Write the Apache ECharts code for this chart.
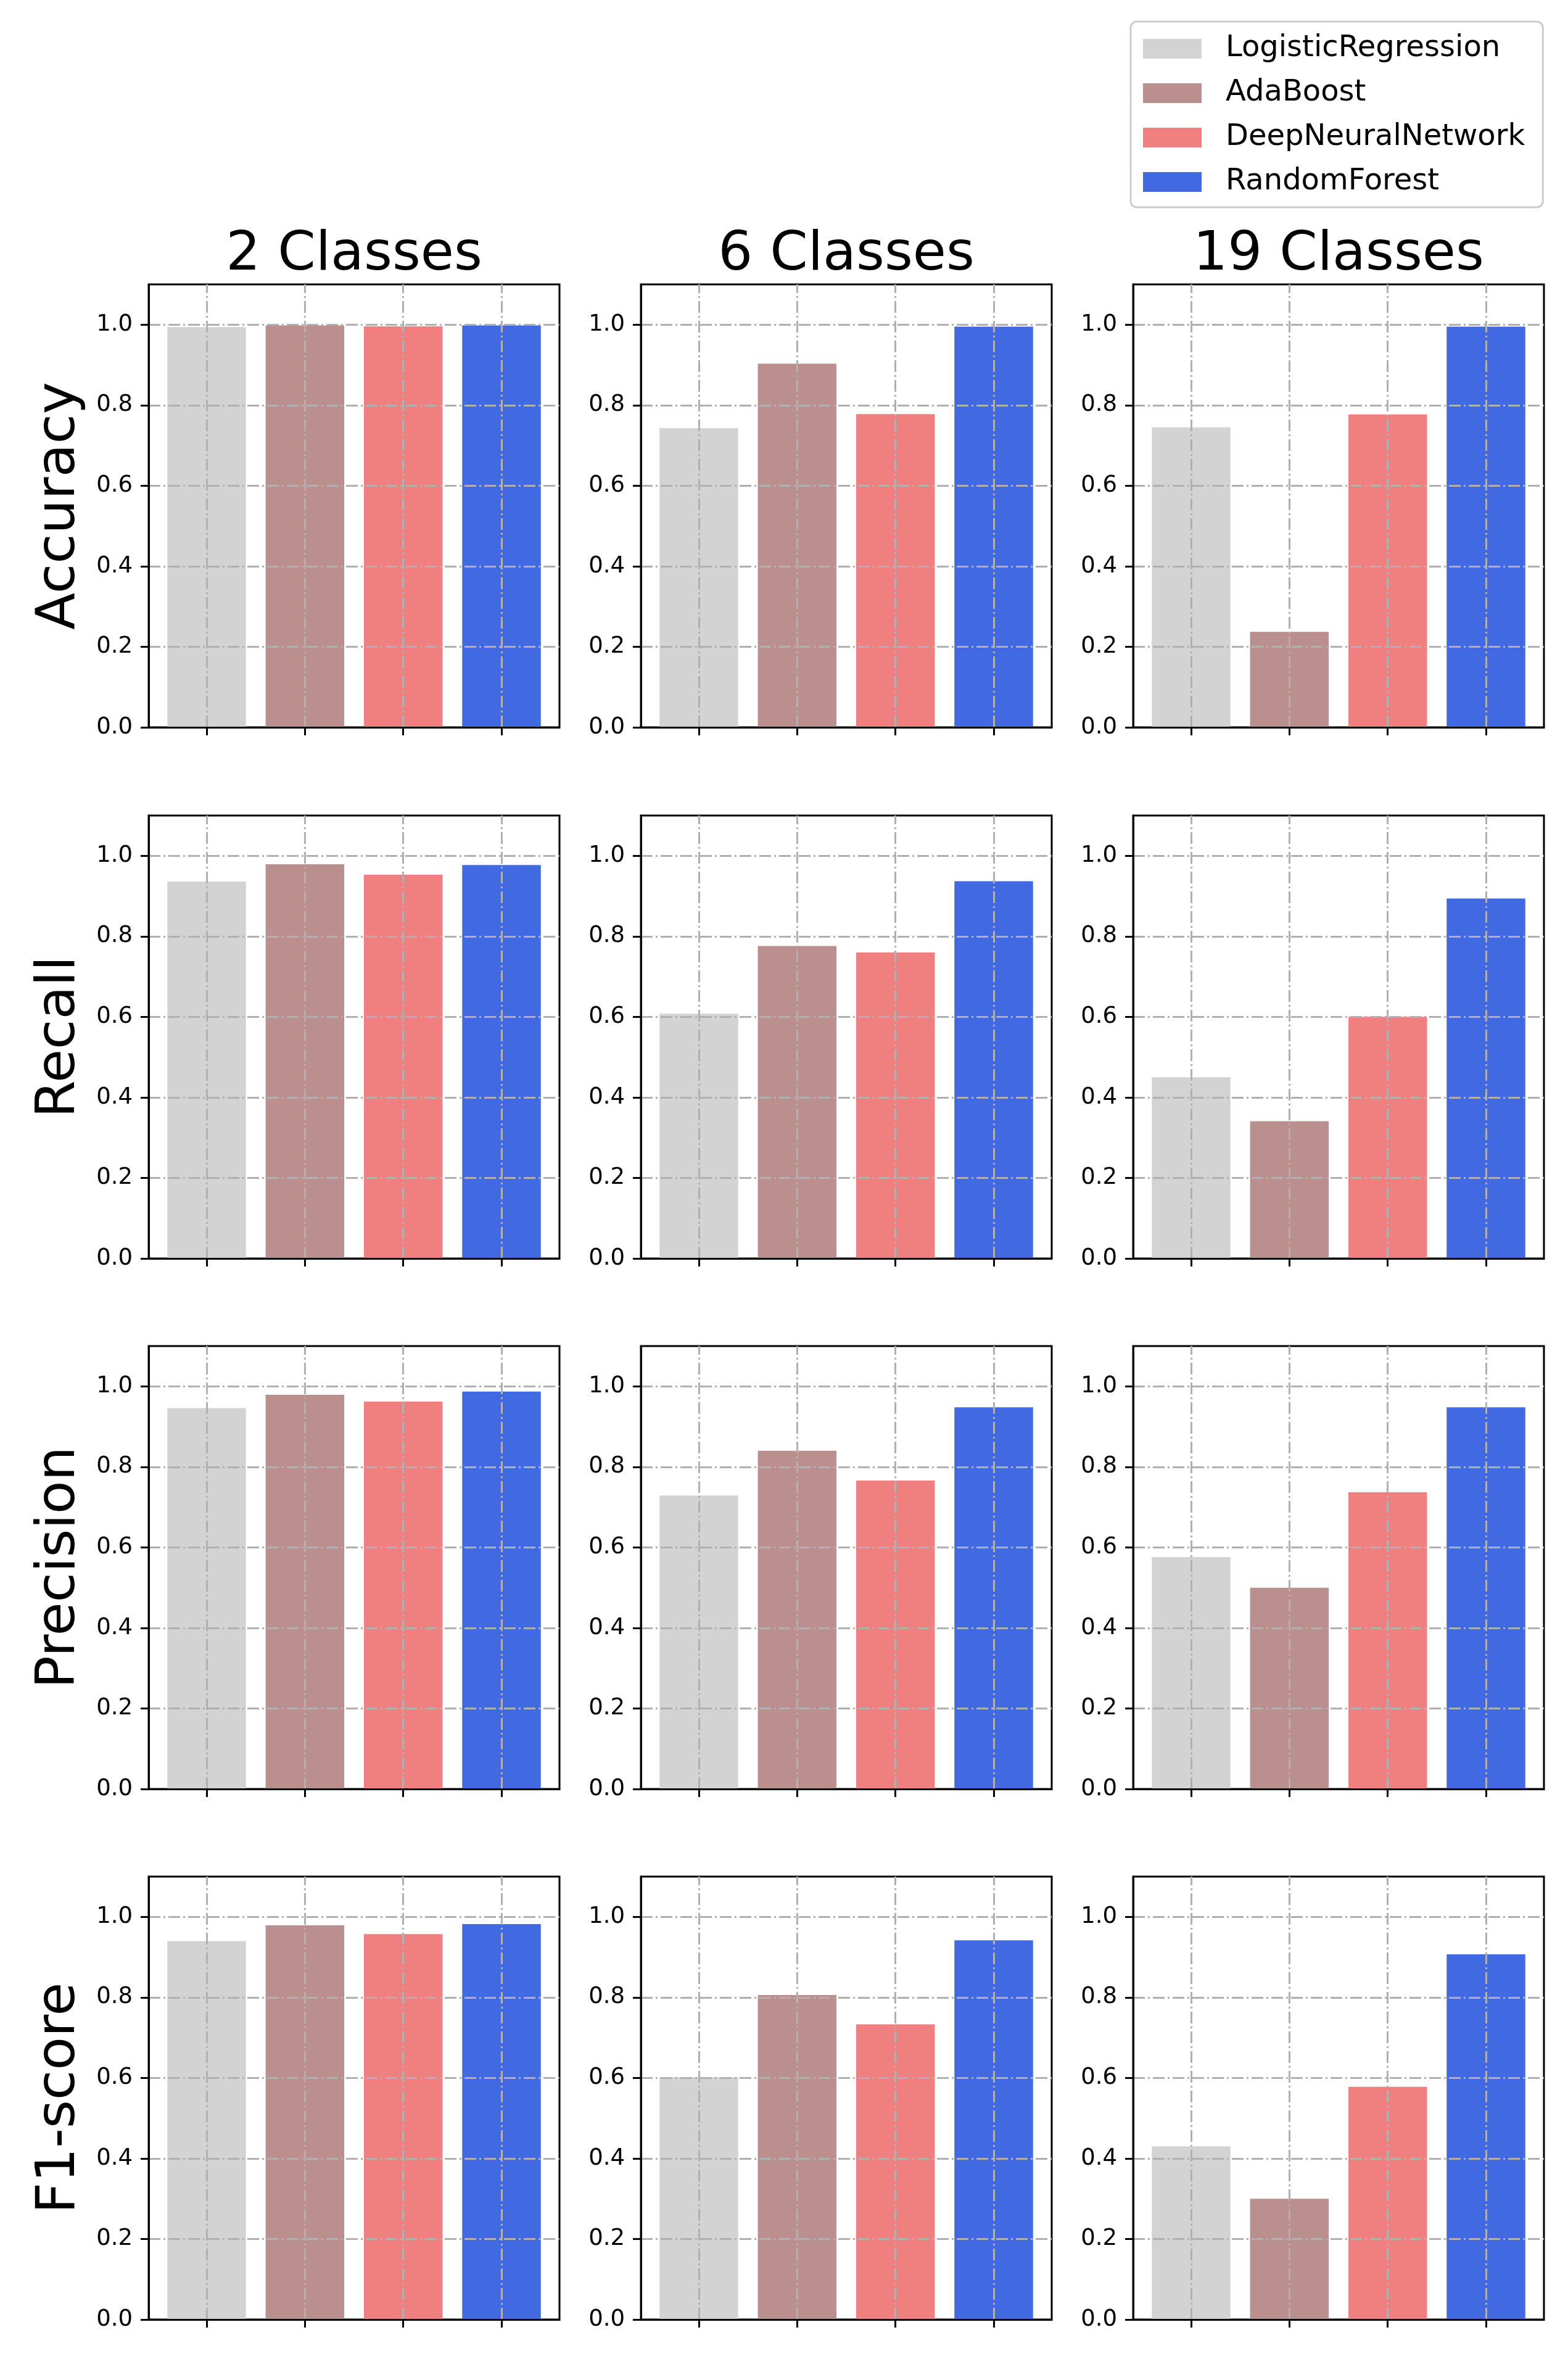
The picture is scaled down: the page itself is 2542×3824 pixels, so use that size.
<!DOCTYPE html>
<html>
<head>
<meta charset="utf-8">
<script src="https://cdn.jsdelivr.net/npm/echarts@6/dist/echarts.min.js"></script>
<style>
html,body{margin:0;padding:0;background:#ffffff;}
#chart{width:2542px;height:3824px;}
</style>
</head>
<body>
<div id="chart"></div>
<script>
// ---- data ----
const models = ['LogisticRegression', 'AdaBoost', 'DeepNeuralNetwork', 'RandomForest'];
const classTitles = ['2 Classes', '6 Classes', '19 Classes'];
const metrics = ['Accuracy', 'Recall', 'Precision', 'F1-score'];
const yTicks = [0, 0.2, 0.4, 0.6, 0.8, 1.0];
const xTicks = [0, 1, 2, 3];

const accuracy2  = [0.994, 0.998, 0.996, 0.998];
const accuracy6  = [0.743, 0.903, 0.778, 0.995];
const accuracy19 = [0.745, 0.237, 0.777, 0.995];
const recall2    = [0.936, 0.979, 0.953, 0.977];
const recall6    = [0.608, 0.776, 0.760, 0.937];
const recall19   = [0.450, 0.341, 0.600, 0.894];
const precision2  = [0.946, 0.979, 0.962, 0.987];
const precision6  = [0.729, 0.840, 0.766, 0.948];
const precision19 = [0.576, 0.500, 0.737, 0.948];
const f1score2  = [0.940, 0.979, 0.957, 0.982];
const f1score6  = [0.602, 0.806, 0.733, 0.942];
const f1score19 = [0.430, 0.300, 0.578, 0.907];

const panelValues = [
  [accuracy2, accuracy6, accuracy19],
  [recall2, recall6, recall19],
  [precision2, precision6, precision19],
  [f1score2, f1score6, f1score19]
];

// ---- style / layout ----
const modelColors = ['#d3d3d3', '#bc8f8f', '#f08080', '#4169e1'];
const FONT = 'DejaVu Sans';
const gridLefts = [241, 1039, 1837];
const gridTops = [461, 1322, 2182, 3042];
const gridW = 666, gridH = 718;
const xMin = -0.59, xMax = 3.59;
const barW = gridW * 0.8 / (xMax - xMin);
const gridLineStyle = {color: '#b0b0b0', width: 3, type: [19, 5, 3, 5]};

const grids = [], xAxes = [], yAxes = [], series = [], graphics = [];

for (let r = 0; r < metrics.length; r++) {
  for (let c = 0; c < classTitles.length; c++) {
    const idx = r * classTitles.length + c;
    grids.push({
      left: gridLefts[c], top: gridTops[r], width: gridW, height: gridH,
      show: true, borderColor: '#000', borderWidth: 3, backgroundColor: 'rgba(0,0,0,0)'
    });
    xAxes.push({
      type: 'value', gridIndex: idx, min: xMin, max: xMax, z: 10,
      axisLine: {show: true, onZero: false, lineStyle: {color: '#000', width: 3}},
      axisTick: {show: true, customValues: xTicks, length: 13, lineStyle: {color: '#000', width: 3}},
      axisLabel: {show: false},
      splitLine: {show: false}
    });
    yAxes.push({
      type: 'value', gridIndex: idx, min: 0, max: 1.1, interval: 0.2, z: 10,
      axisLine: {show: true, onZero: false, lineStyle: {color: '#000', width: 3}},
      axisTick: {show: true, customValues: yTicks, length: 13, lineStyle: {color: '#000', width: 3}},
      axisLabel: {
        show: true, customValues: yTicks, margin: 26, fontSize: 37, fontFamily: FONT, color: '#000',
        formatter: v => Number(v).toFixed(1)
      },
      splitLine: {show: false}
    });
    const vals = panelValues[r][c];
    for (let m = 0; m < models.length; m++) {
      const s = {
        type: 'bar', name: models[m], xAxisIndex: idx, yAxisIndex: idx,
        data: [[xTicks[m], vals[m]]],
        barWidth: barW, barGap: '-100%',
        itemStyle: {color: modelColors[m]},
        emphasis: {disabled: true},
        z: 2
      };
      if (m === models.length - 1) {
        s.markLine = {
          silent: true, symbol: 'none', animation: false, z: 5,
          label: {show: false},
          lineStyle: gridLineStyle,
          data: yTicks.map(v => ({yAxis: v})).concat(xTicks.map(v => ({xAxis: v})))
        };
      }
      series.push(s);
    }
  }
}

// column titles
for (let c = 0; c < classTitles.length; c++) {
  graphics.push({
    type: 'text', x: gridLefts[c] + gridW / 2, y: 414, z: 20,
    style: {
      text: classTitles[c], font: '88px "' + FONT + '"', fill: '#000',
      align: 'center', verticalAlign: 'middle', textAlign: 'center', textVerticalAlign: 'middle'
    }
  });
}
// row labels
for (let r = 0; r < metrics.length; r++) {
  graphics.push({
    type: 'text', x: 97, y: gridTops[r] + gridH / 2, rotation: Math.PI / 2, z: 20,
    style: {
      text: metrics[r], font: '88px "' + FONT + '"', fill: '#000',
      align: 'center', verticalAlign: 'middle', textAlign: 'center', textVerticalAlign: 'middle'
    }
  });
}

const chart = echarts.init(document.getElementById('chart'));
chart.setOption({
  animation: false,
  backgroundColor: '#ffffff',
  grid: grids,
  xAxis: xAxes,
  yAxis: yAxes,
  series: series,
  graphic: graphics,
  legend: {
    data: models, orient: 'vertical', left: 1833, top: 35,
    padding: [20, 29, 17, 20],
    itemWidth: 95, itemHeight: 32, itemGap: 24, icon: 'rect',
    backgroundColor: '#ffffff', borderColor: '#cccccc', borderWidth: 3, borderRadius: 10,
    textStyle: {fontSize: 48, fontFamily: FONT, color: '#000', lineHeight: 40, padding: [0, 0, 0, 34]}
  }
});
</script>
</body>
</html>
